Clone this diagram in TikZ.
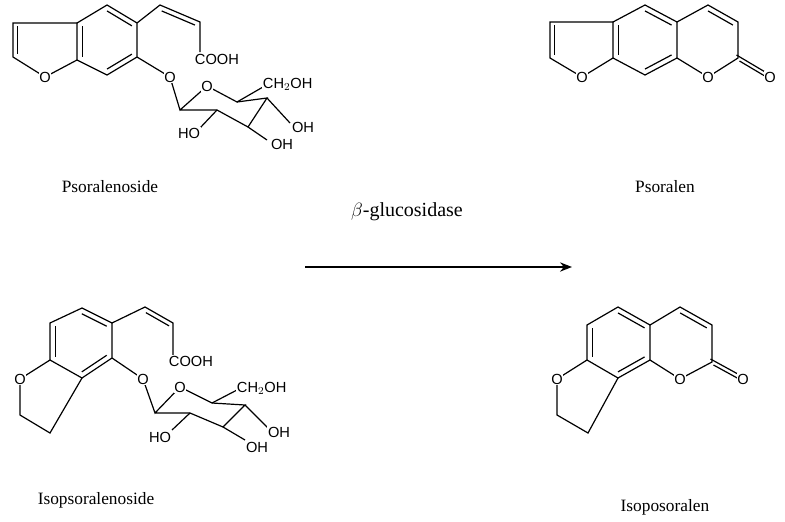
\documentclass[tikz,border=0pt]{standalone}
\usepackage{fontspec}
\setmainfont{Liberation Serif}
\newfontfamily\atomfont{Liberation Sans}
\usetikzlibrary{calc,arrows.meta}
\tikzset{
  bond/.style={line width=0.9pt},
  atom/.style={font=\atomfont\fontsize{11}{12}\selectfont, fill=white, inner sep=0.5pt},
  lab/.style={font=\fontsize{13}{15}\selectfont},
}
\newcommand{\dbl}[3]{\draw[bond] ($(#1)!0.17!(#3)$) -- ($(#2)!0.17!(#3)$);}
\begin{document}
\begin{tikzpicture}[x=0.75pt,y=-0.75pt]
\useasboundingbox (0,0) rectangle (785,521);
% ===== Psoralenoside =====
\coordinate (a1) at (107,5); \coordinate (a2) at (137,23); \coordinate (a3) at (137,57);
\coordinate (a4) at (107,75); \coordinate (a5) at (77,60); \coordinate (a6) at (77,23);
\coordinate (ac) at (107,40);
\coordinate (f1) at (13,23); \coordinate (f2) at (13,57); \coordinate (fo) at (45,77);
\coordinate (fc) at (40,42);
\coordinate (s1) at (160,5); \coordinate (s2) at (200,22); \coordinate (s3) at (200,52);
\coordinate (sc) at (170,40);
\coordinate (og) at (170,77);
\coordinate (g1) at (180,110); \coordinate (g2) at (217,110); \coordinate (g3) at (248,127);
\coordinate (g4) at (267,98); \coordinate (g5) at (237,102); \coordinate (go) at (207,86);
\draw[bond] (a1)--(a2)--(a3)--(a4)--(a5)--(a6)--cycle;
\dbl{a1}{a2}{ac} \dbl{a5}{a6}{ac} \dbl{a3}{a4}{ac}
\draw[bond] (a6)--(f1)--(f2)--(fo)--(a5);
\dbl{f1}{f2}{fc}
\draw[bond] (a2)--(s1)--(s2)--(s3);
\dbl{s1}{s2}{sc}
\draw[bond] (a3)--(og)--(g1)--(go)--(g5)--(g4)--(g3)--(g2)--(g1);
\draw[bond] (g5)--(263,87);
\draw[bond] (g2)--(200,128);
\draw[bond] (g4)--(290,123);
\draw[bond] (g3)--(267,140);
\node[atom] (tfo) at (fo) {O};
\node[atom] (tog) at (og) {O};
\node[atom] (tgo) at (go) {O};
\node[atom,anchor=west] (tcooh) at (194,59) {COOH};
\node[atom,anchor=west] (tch) at (262,84) {CH$_2$OH};
\node[atom] (tho1) at (189,133) {HO};
\node[atom] (toh1) at (303,127) {OH};
\node[atom] (toh2) at (282,144) {OH};
\node[lab] (n1) at (110,187) {Psoralenoside};
% ===== Psoralen =====
\coordinate (p1) at (645,5); \coordinate (p2) at (677,22); \coordinate (p3) at (677,58);
\coordinate (p4) at (645,75); \coordinate (p5) at (613,58); \coordinate (p6) at (613,22);
\coordinate (pc) at (645,40);
\coordinate (pf1) at (550,22); \coordinate (pf2) at (550,58); \coordinate (pfo) at (582,77);
\coordinate (pfc) at (578,42);
\coordinate (q1) at (708,5); \coordinate (q2) at (738,22); \coordinate (q3) at (738,58);
\coordinate (qo) at (708,77); \coordinate (qx) at (770,77); \coordinate (qc) at (708,40);
\draw[bond] (p1)--(p2)--(p3)--(p4)--(p5)--(p6)--cycle;
\dbl{p1}{p2}{pc} \dbl{p5}{p6}{pc} \dbl{p3}{p4}{pc}
\draw[bond] (p6)--(pf1)--(pf2)--(pfo)--(p5);
\dbl{pf1}{pf2}{pfc}
\draw[bond] (p2)--(q1)--(q2)--(q3)--(qo)--(p3);
\dbl{q1}{q2}{qc}
\draw[bond] ($(q3)+(-1.5,-3)$)--($(qx)+(-1.5,-3)$);
\draw[bond] ($(q3)+(1.5,3)$)--($(qx)+(1.5,3)$);
\node[atom] (tpfo) at (pfo) {O};
\node[atom] (tqo) at (qo) {O};
\node[atom] (tqx) at (qx) {O};
\node[lab] (n2) at (665,187) {Psoralen};
% ===== arrow =====
\node[lab,font=\fontsize{15}{17}\selectfont] (enz) at (407,212) {$\beta$-glucosidase};
\coordinate (ar1) at (305,267); \coordinate (ar2) at (572,267);
\draw[line width=1pt,-{Stealth[length=9pt,width=7pt]}] (ar1)--(ar2);
% ===== Isopsoralenoside =====
\coordinate (b1) at (82,308); \coordinate (b2) at (112,323); \coordinate (b3) at (112,358);
\coordinate (b4) at (82,378); \coordinate (b5) at (50,360); \coordinate (b6) at (50,323);
\coordinate (bc) at (81,342);
\coordinate (bo) at (20,379); \coordinate (bf1) at (20,415); \coordinate (bf2) at (50,433);
\coordinate (t1) at (145,307); \coordinate (t2) at (173,323); \coordinate (t3) at (173,355);
\coordinate (tc) at (150,340);
\coordinate (ob) at (143,379);
\coordinate (h1) at (155,413); \coordinate (h2) at (190,413); \coordinate (h3) at (223,427);
\coordinate (h4) at (245,405); \coordinate (h5) at (212,403); \coordinate (ho) at (180,387);
\draw[bond] (b1)--(b2)--(b3)--(b4)--(b5)--(b6)--cycle;
\dbl{b1}{b2}{bc} \dbl{b5}{b6}{bc} \dbl{b3}{b4}{bc}
\draw[bond] (b5)--(bo)--(bf1)--(bf2)--(b4);
\draw[bond] (b2)--(t1)--(t2)--(t3);
\dbl{t1}{t2}{tc}
\draw[bond] (b3)--(ob)--(h1)--(ho)--(h5)--(h4)--(h3)--(h2)--(h1);
\draw[bond] (h5)--(237,390);
\draw[bond] (h2)--(172,430);
\draw[bond] (h4)--(268,428);
\draw[bond] (h3)--(245,440);
\node[atom] (tbo) at (bo) {O};
\node[atom] (tob) at (ob) {O};
\node[atom] (tho) at (ho) {O};
\node[atom,anchor=west] (tcooh2) at (168,361) {COOH};
\node[atom,anchor=west] (tch2) at (236,388) {CH$_2$OH};
\node[atom] (tho2) at (160,437) {HO};
\node[atom] (toh3) at (279,432) {OH};
\node[atom] (toh4) at (257,447) {OH};
\node[lab] (n3) at (96,500) {Isopsoralenoside};
% ===== Isoposoralen =====
\coordinate (c1) at (618,307); \coordinate (c2) at (650,325); \coordinate (c3) at (650,360);
\coordinate (c4) at (618,378); \coordinate (c5) at (587,360); \coordinate (c6) at (587,325);
\coordinate (cc) at (618,342);
\coordinate (co) at (557,379); \coordinate (cf1) at (557,415); \coordinate (cf2) at (588,433);
\coordinate (r1) at (680,307); \coordinate (r2) at (712,325); \coordinate (r3) at (712,362);
\coordinate (ro) at (680,379); \coordinate (rx) at (743,379); \coordinate (rc) at (681,342);
\draw[bond] (c1)--(c2)--(c3)--(c4)--(c5)--(c6)--cycle;
\dbl{c1}{c2}{cc} \dbl{c5}{c6}{cc} \dbl{c3}{c4}{cc}
\draw[bond] (c5)--(co)--(cf1)--(cf2)--(c4);
\draw[bond] (c2)--(r1)--(r2)--(r3)--(ro)--(c3);
\dbl{r1}{r2}{rc}
\draw[bond] ($(r3)+(-1.5,-3)$)--($(rx)+(-1.5,-3)$);
\draw[bond] ($(r3)+(1.5,3)$)--($(rx)+(1.5,3)$);
\node[atom] (tco) at (co) {O};
\node[atom] (tro) at (ro) {O};
\node[atom] (trx) at (rx) {O};
\node[lab] (n4) at (665,507) {Isoposoralen};
\end{tikzpicture}
\end{document}
